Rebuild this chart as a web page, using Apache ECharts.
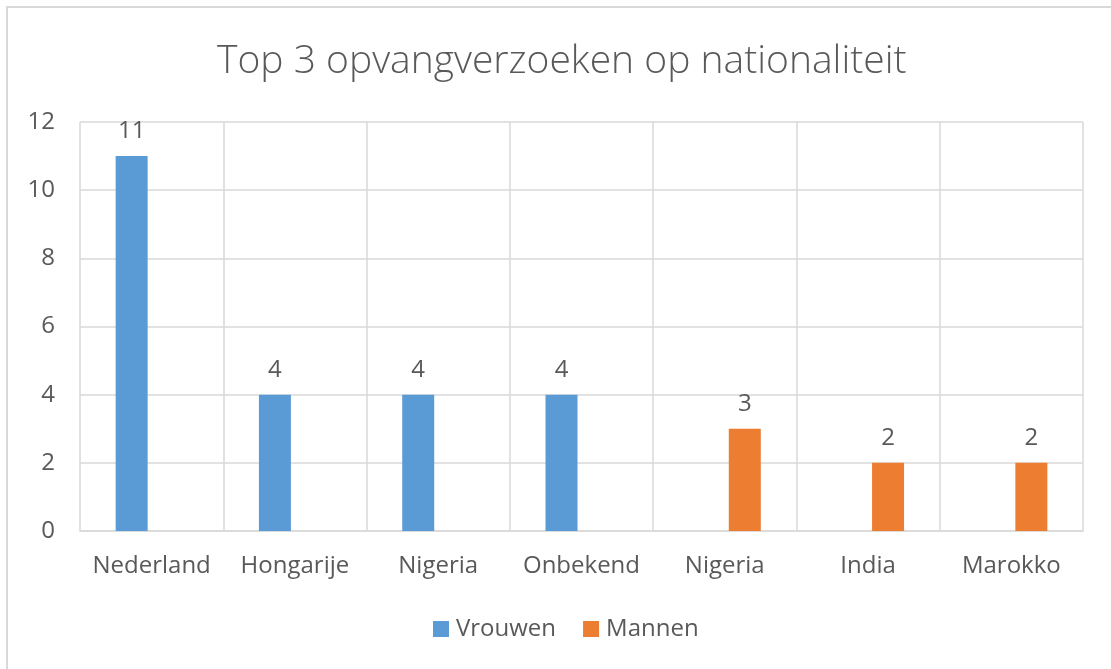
<!DOCTYPE html>
<html>
<head>
<meta charset="utf-8">
<style>
  html, body { margin: 0; padding: 0; background: #fff; }
  #chart { width: 1111px; height: 669px; }
</style>
<script src="https://cdn.jsdelivr.net/npm/echarts@6/dist/echarts.min.js"></script>
</head>
<body>
<div id="chart"></div>
<script>
// data
const categories = ['Nederland', 'Hongarije', 'Nigeria', 'Onbekend', 'Nigeria', 'India', 'Marokko']
const vrouwen = [11, 4, 4, 4, null, null, null]
const mannen = [null, null, null, null, 3, 2, 2]
const yTicks = { min: 0, max: 12, interval: 2 }

const textColor = '#595959'
const gridColor = '#d9d9d9'
const font = 'Open Sans'

const chart = echarts.init(document.getElementById('chart'))

const barLabel = {
  show: true,
  position: 'top',
  distance: 13,
  color: textColor,
  fontFamily: font,
  fontSize: 24
}

chart.setOption({
  animation: false,
  graphic: [
    {
      type: 'rect',
      shape: { x: 7, y: 7, width: 1200, height: 700 },
      style: { fill: 'none', stroke: gridColor, lineWidth: 2 },
      silent: true
    }
  ],
  title: {
    text: 'Top 3 opvangverzoeken op nationaliteit',
    left: 212,
    top: 37,
    textStyle: {
      color: textColor,
      fontFamily: font,
      fontWeight: 300,
      fontSize: 39
    }
  },
  legend: {
    data: ['Vrouwen', 'Mannen'],
    bottom: 23,
    left: 428,
    icon: 'rect',
    itemWidth: 16,
    itemHeight: 16,
    itemGap: 27,
    textStyle: {
      color: textColor,
      fontFamily: font,
      fontSize: 24,
      padding: [0, 0, 0, 2]
    }
  },
  grid: {
    left: 80,
    right: 28,
    top: 122,
    bottom: 138
  },
  xAxis: {
    type: 'category',
    data: categories,
    axisLine: { lineStyle: { color: gridColor, width: 1.5 } },
    axisTick: { show: false, interval: 0 },
    splitLine: { show: true, interval: 0, lineStyle: { color: gridColor, width: 1.5 } },
    axisLabel: {
      interval: 0,
      color: textColor,
      fontFamily: font,
      fontSize: 24,
      margin: 23
    }
  },
  yAxis: {
    type: 'value',
    min: yTicks.min,
    max: yTicks.max,
    interval: yTicks.interval,
    axisLine: { show: false },
    axisTick: { show: false },
    splitLine: { lineStyle: { color: gridColor, width: 1.5 } },
    axisLabel: {
      color: textColor,
      fontFamily: font,
      fontSize: 24,
      margin: 25
    }
  },
  series: [
    {
      name: 'Vrouwen',
      type: 'bar',
      data: vrouwen,
      barWidth: 32,
      barGap: '25%',
      itemStyle: { color: '#5b9bd5' },
      label: barLabel
    },
    {
      name: 'Mannen',
      type: 'bar',
      data: mannen,
      barWidth: 32,
      barGap: '25%',
      itemStyle: { color: '#ed7d31' },
      label: barLabel
    }
  ]
})
</script>
</body>
</html>
